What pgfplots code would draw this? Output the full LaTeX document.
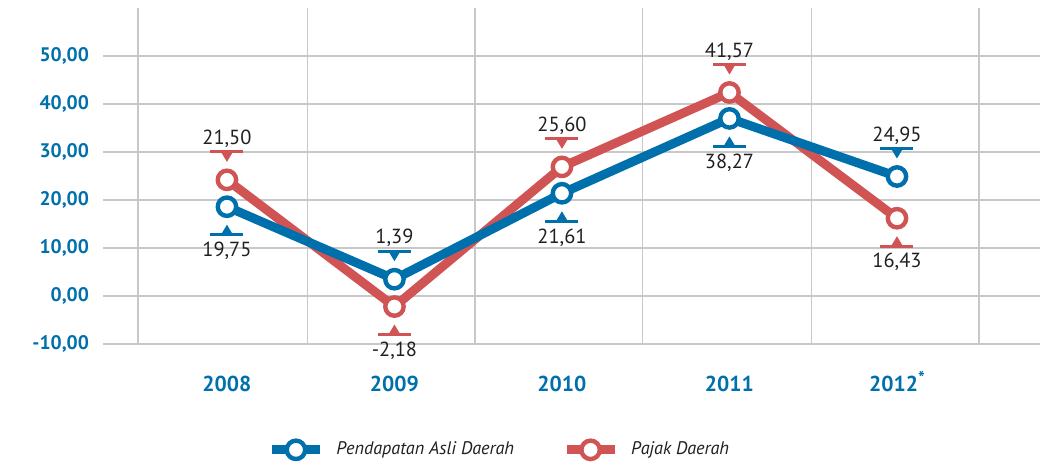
\documentclass[border=0pt]{standalone}
\usepackage{pgfplots}
\pgfplotsset{compat=1.18}
\usepackage{fontspec}
\setmainfont{PT Sans}

\definecolor{pad}{RGB}{0,112,173}
\definecolor{pajak}{RGB}{209,84,84}
\definecolor{gridc}{RGB}{200,200,200}
\definecolor{txt}{RGB}{35,31,32}

% callout above the point, small triangle pointing down to it
\pgfdeclareplotmark{calldown}{%
  \pgfpathmoveto{\pgfpoint{-8.25pt}{14pt}}\pgfpathlineto{\pgfpoint{8.25pt}{14pt}}\pgfusepathqstroke
  \pgfpathmoveto{\pgfpoint{-3pt}{14pt}}\pgfpathlineto{\pgfpoint{3pt}{14pt}}\pgfpathlineto{\pgfpoint{0pt}{9pt}}\pgfpathclose\pgfusepathqfill
}
% callout below the point, triangle pointing up
\pgfdeclareplotmark{callup}{%
  \pgfpathmoveto{\pgfpoint{-8.25pt}{-14pt}}\pgfpathlineto{\pgfpoint{8.25pt}{-14pt}}\pgfusepathqstroke
  \pgfpathmoveto{\pgfpoint{-3pt}{-14pt}}\pgfpathlineto{\pgfpoint{3pt}{-14pt}}\pgfpathlineto{\pgfpoint{0pt}{-9pt}}\pgfpathclose\pgfusepathqfill
}

\begin{document}
\begin{tikzpicture}
\begin{axis}[
    name=ax,
    scale only axis,
    width=468.5pt, height=168pt,
    xmin=-0.74, xmax=4.854,
    ymin=-10, ymax=60,
    axis line style={draw=none},
    major tick length=0pt, minor tick length=0pt,
    xtick={0,1,2,3,4},
    xticklabels={2008,2009,2010,2011,2012\raisebox{0.35em}{\fontsize{9}{9}\selectfont*}},
    minor xtick={-0.53,0.48,1.48,2.48,3.49,4.49},
    xminorgrids=true,
    ytick={-10,0,10,20,30,40,50},
    yticklabels={{-10,00},{0,00},{10,00},{20,00},{30,00},{40,00},{50,00}},
    ymajorgrids=true,
    grid style={gridc, line width=0.75pt},
    minor grid style={gridc, line width=0.75pt},
    yticklabel style={font=\fontsize{9.8}{11}\selectfont\bfseries, text=pad, xshift=-3.5pt},
    xticklabel style={font=\fontsize{10.8}{12}\selectfont\bfseries, text=pad, anchor=base, yshift=-24pt},
    nodes near coords style={font=\fontsize{10.2}{11}\selectfont, text=txt, anchor=center},
    legend style={draw=none, at={(0.424,-0.315)}, anchor=center,
        font=\fontsize{9.1}{10}\selectfont\itshape, text=txt,
        /tikz/every odd column/.append style={column sep=4pt},
        /tikz/every even column/.append style={column sep=22pt}},
    legend columns=2,
    legend cell align=left,
    legend image code/.code={\draw[mark repeat=2,mark phase=2,#1] plot coordinates {(0pt,0pt) (12pt,0pt) (24pt,0pt)};},
]

% Pajak Daerah
\addplot[pajak, line width=4.5pt, line join=round, mark=*, mark size=4.6pt,
    mark options={fill=white, draw=pajak, line width=2.2pt}, forget plot]
    coordinates {(0,24.2) (1,-2.2) (2,26.9) (3,42.4) (4,16.2)};

% Pendapatan Asli Daerah
\addplot[pad, line width=4.5pt, line join=round, mark=*, mark size=4.6pt,
    mark options={fill=white, draw=pad, line width=2.2pt}]
    coordinates {(0,18.6) (1,3.5) (2,21.4) (3,37.0) (4,24.9)};
\addlegendentry{Pendapatan Asli Daerah}
\addlegendimage{pajak, line width=4.5pt, mark=*, mark size=4.6pt,
    mark options={fill=white, draw=pajak, line width=2.2pt}}
\addlegendentry{Pajak Daerah}

% value callouts
\addplot[only marks, mark=calldown, mark options={draw=pad, fill=pad, line width=1.4pt},
    point meta=explicit symbolic, nodes near coords,
    every node near coord/.append style={yshift=20.5pt}, forget plot]
    coordinates {(1,3.5) [1,39] (4,24.9) [24,95]};
\addplot[only marks, mark=callup, mark options={draw=pad, fill=pad, line width=1.4pt},
    point meta=explicit symbolic, nodes near coords,
    every node near coord/.append style={yshift=-22pt}, forget plot]
    coordinates {(0,18.6) [19,75] (2,21.4) [21,61] (3,37.0) [38,27]};
\addplot[only marks, mark=calldown, mark options={draw=pajak, fill=pajak, line width=1.4pt},
    point meta=explicit symbolic, nodes near coords,
    every node near coord/.append style={yshift=20.5pt}, forget plot]
    coordinates {(0,24.2) [21,50] (2,26.9) [25,60] (3,42.4) [41,57]};
\addplot[only marks, mark=callup, mark options={draw=pajak, fill=pajak, line width=1.4pt},
    point meta=explicit symbolic, nodes near coords,
    every node near coord/.append style={yshift=-22pt}, forget plot]
    coordinates {(1,-2.2) [-2,18] (4,16.2) [16,43]};
\end{axis}
\pgfresetboundingbox
\path ([shift={(-51.5pt,-60pt)}]ax.south west) rectangle ([shift={(469.5pt,172pt)}]ax.south west);
\end{tikzpicture}
\end{document}
